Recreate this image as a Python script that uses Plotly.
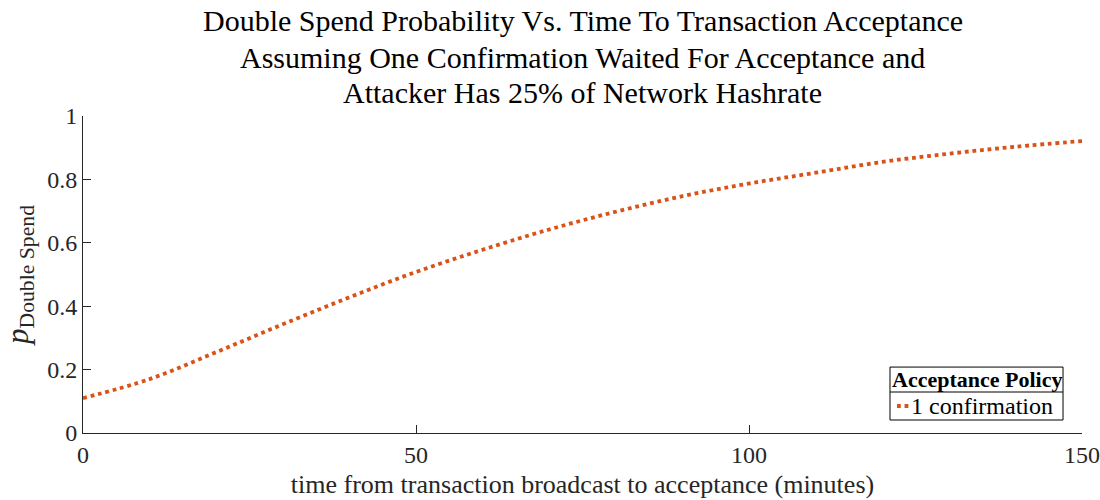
import plotly.graph_objects as go

t_minutes = [0, 10, 20, 30, 40, 50, 60, 70, 80, 90, 100, 110, 120, 130, 140, 150]
p_double_spend = [0.110, 0.170, 0.255, 0.343, 0.428, 0.508, 0.578, 0.642, 0.698, 0.747,
                  0.787, 0.821, 0.855, 0.881, 0.903, 0.921]

title_lines = ["Double Spend Probability Vs. Time To Transaction Acceptance",
               "Assuming One Confirmation Waited For Acceptance and",
               "Attacker Has 25% of Network Hashrate"]
series_name = "1 confirmation"
legend_title = "Acceptance Policy"
x_label = "time from transaction broadcast to acceptance (minutes)"
y_label = "<i>p</i><sub>Double Spend</sub>"

FONT = "Liberation Serif"
AX = "#262626"
LINE_COLOR = "#D95319"

fig = go.Figure()
fig.add_trace(go.Scatter(
    x=t_minutes, y=p_double_spend, mode="lines", name=series_name, showlegend=False,
    line=dict(color=LINE_COLOR, width=3.8, dash="dot", shape="spline"),
))

# title, one annotation per line
for ln, ypos in zip(title_lines, [1.3028, 1.1861, 1.0726]):
    fig.add_annotation(
        text=ln, xref="paper", yref="paper", x=0.5, y=ypos,
        xanchor="center", yanchor="middle", showarrow=False,
        font=dict(family=FONT, size=30, color="black"),
    )

# legend box (MATLAB style with title row)
lx0, lx1, ly0, ly1, lsep = 0.8078, 0.981, 0.041, 0.208, 0.1293
fig.add_shape(type="rect", xref="paper", yref="paper", x0=lx0, x1=lx1, y0=ly0, y1=ly1,
              line=dict(color="black", width=1), fillcolor="white", layer="above")
fig.add_shape(type="line", xref="paper", yref="paper", x0=lx0, x1=lx1, y0=lsep, y1=lsep,
              line=dict(color="black", width=1), layer="above")
fig.add_annotation(text="<b>" + legend_title + "</b>", xref="paper", yref="paper",
                   x=(lx0 + lx1) / 2, y=(lsep + ly1) / 2, xanchor="center", yanchor="middle",
                   showarrow=False, font=dict(family=FONT, size=22, color="black"))
fig.add_shape(type="line", xref="paper", yref="paper", x0=0.8148, x1=0.8268,
              y0=(ly0 + lsep) / 2, y1=(ly0 + lsep) / 2,
              line=dict(color=LINE_COLOR, width=3.8, dash="dot"), layer="above")
fig.add_annotation(text=series_name, xref="paper", yref="paper",
                   x=0.827, y=(ly0 + lsep) / 2, xanchor="left", yanchor="middle",
                   showarrow=False, font=dict(family=FONT, size=24, color="black"))

fig.update_layout(
    width=1100, height=500,
    margin=dict(l=83, r=18, t=116, b=67),
    paper_bgcolor="white", plot_bgcolor="white",
    font=dict(family=FONT, color=AX, size=24),
    showlegend=False,
)

fig.update_xaxes(
    range=[0, 150], tickvals=[0, 50, 100, 150], ticks="inside", ticklen=8, automargin=False,
    tickcolor=AX, showline=True, linecolor=AX, linewidth=1, showgrid=False,
    zeroline=False, tickfont=dict(family=FONT, size=24),
    title=dict(text=x_label, font=dict(family=FONT, size=26), standoff=8),
)
fig.update_yaxes(
    range=[0, 1], tickvals=[0, 0.2, 0.4, 0.6, 0.8, 1], ticktext=["0", "0.2", "0.4", "0.6", "0.8", "1"],
    ticks="inside", ticklen=8, automargin=False,
    tickcolor=AX, showline=True, linecolor=AX, linewidth=1, showgrid=False,
    zeroline=False, tickfont=dict(family=FONT, size=24),
    title=dict(text=y_label, font=dict(family=FONT, size=31), standoff=12),
)

fig.write_html("out.html")
